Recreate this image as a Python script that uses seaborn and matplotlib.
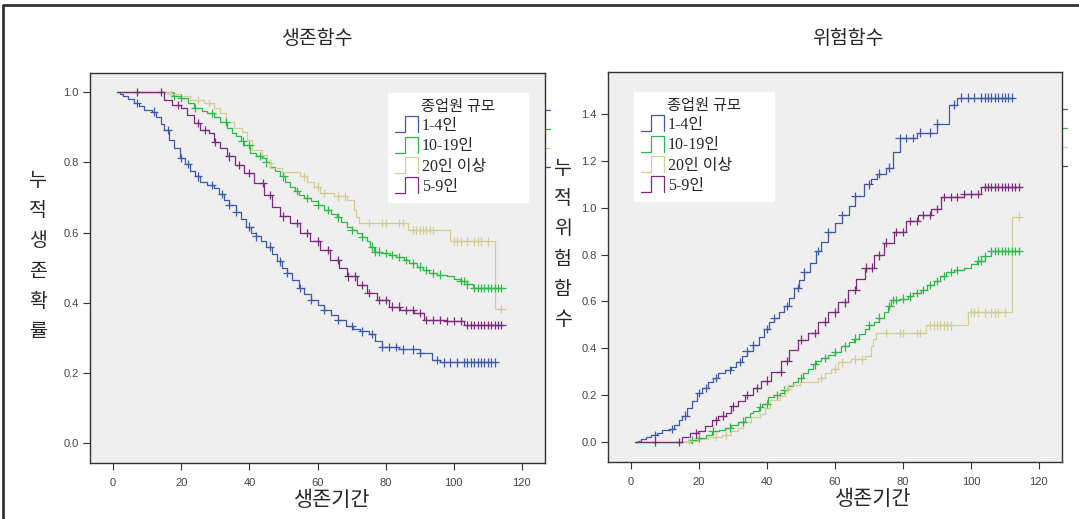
import numpy as np
import pandas as pd
import matplotlib
matplotlib.use('Agg')
import matplotlib.pyplot as plt
import seaborn as sns
from matplotlib.legend_handler import HandlerBase
from matplotlib.lines import Line2D

# ---- data (Kaplan-Meier survival, by firm size) ----
groups = ['1-4인', '10-19인', '20인 이상', '5-9인']

t_1_4 = [1, 2, 3, 4.5, 6, 7.5, 9, 11.5, 12.5, 14, 15, 16.5, 18, 19.5, 21, 22.5, 24, 25.5,
         27.5, 29.5, 31, 32.5, 34, 36, 37.5, 39, 40.5, 42, 43.5, 45, 46.5, 48, 49.5, 51,
         52.5, 54.5, 56, 58, 60, 62, 64, 66, 68.5, 70.5, 72.5, 75, 77, 79, 84, 90, 93.5,
         96, 112.5]
s_1_4 = [1.0, 0.994, 0.988, 0.980, 0.969, 0.960, 0.950, 0.945, 0.930, 0.910, 0.893, 0.865,
         0.840, 0.812, 0.795, 0.775, 0.760, 0.745, 0.735, 0.726, 0.710, 0.693, 0.678, 0.660,
         0.640, 0.617, 0.600, 0.589, 0.575, 0.560, 0.540, 0.518, 0.500, 0.484, 0.465, 0.442,
         0.425, 0.408, 0.393, 0.380, 0.365, 0.350, 0.333, 0.325, 0.318, 0.310, 0.290, 0.273,
         0.267, 0.257, 0.237, 0.230, 0.230]

t_10_19 = [1, 17.5, 20, 22, 23.7, 26, 27.6, 29.5, 31.5, 33.4, 35, 36, 37.5, 38.5, 40.3, 42,
           43.7, 45, 46.1, 47.5, 49.1, 50.5, 52, 53.5, 54.5, 56, 58, 60, 61.8, 64, 65.7, 67,
           68.7, 70, 71.6, 73, 74.5, 75.5, 76.5, 79, 81.4, 83, 85.3, 87, 89.2, 91, 92.6, 95,
           98, 100, 101.9, 104, 105.8, 114.5]
s_10_19 = [1.0, 0.990, 0.983, 0.970, 0.955, 0.948, 0.940, 0.930, 0.916, 0.897, 0.885, 0.874,
           0.860, 0.850, 0.826, 0.818, 0.812, 0.800, 0.788, 0.775, 0.760, 0.745, 0.731, 0.718,
           0.708, 0.698, 0.689, 0.680, 0.665, 0.652, 0.643, 0.630, 0.617, 0.608, 0.598, 0.588,
           0.575, 0.560, 0.546, 0.542, 0.537, 0.530, 0.522, 0.512, 0.503, 0.493, 0.484, 0.480,
           0.475, 0.468, 0.461, 0.452, 0.442, 0.442]

t_20 = [1, 15, 17, 19.8, 22.7, 26.6, 29.5, 31.5, 33, 35.4, 37.8, 39.3, 40.8, 43.7, 45.2, 46.1,
        49.6, 55, 57, 58.9, 60.8, 64.7, 68.7, 70.6, 71.3, 72.1, 86.7, 99, 112.2, 114]
s_20 = [1.0, 1.0, 0.994, 0.988, 0.978, 0.969, 0.954, 0.940, 0.916, 0.897, 0.888, 0.864, 0.836,
        0.821, 0.798, 0.783, 0.774, 0.760, 0.745, 0.731, 0.712, 0.703, 0.693, 0.665, 0.644,
        0.627, 0.608, 0.575, 0.382, 0.382]

t_5_9 = [1, 14, 14.9, 17.3, 19.8, 21.7, 23.7, 25.6, 28, 29.5, 31.5, 33.4, 35.9, 38.3, 41.3,
         44.2, 46.6, 49.1, 52, 55, 57.9, 60.8, 63.8, 66.2, 68.7, 71.6, 74.5, 77.5, 80.9, 84.3,
         88.2, 91.2, 98, 102.9, 114.6]
s_5_9 = [1.0, 1.0, 0.978, 0.964, 0.954, 0.935, 0.912, 0.893, 0.883, 0.859, 0.840, 0.817, 0.793,
         0.769, 0.741, 0.708, 0.674, 0.646, 0.627, 0.598, 0.575, 0.551, 0.522, 0.499, 0.475,
         0.451, 0.427, 0.408, 0.389, 0.380, 0.370, 0.351, 0.347, 0.337, 0.337]

# censored observations (+ marks)
cens_1_4 = [7, 12, 16, 20, 22, 25, 29, 32, 34, 36, 40, 42, 46, 49, 51, 55, 58, 62, 66, 70, 73,
            76, 79, 81, 83, 85, 88, 90, 95, 97, 99, 101, 103, 104, 105, 106, 107, 108, 109,
            110, 111, 112]
cens_10_19 = [18, 20, 24, 29, 33, 38, 40, 43, 45, 50, 54, 57, 60, 63, 66, 70, 73, 76, 77, 78,
              80, 82, 84, 86, 88, 90, 92, 94, 96, 102, 103, 104, 106, 107, 108, 109, 110, 111,
              112, 113, 114]
cens_20 = [17, 25, 28, 46, 56, 60, 62, 66, 68, 75, 79, 80, 84, 85, 88, 89, 90, 91, 92, 93, 94,
           100, 101, 102, 104, 106, 107, 108, 110, 114]
cens_5_9 = [7, 14, 19, 25, 27, 30, 34, 37, 40, 44, 46, 50, 54, 57, 60, 63, 66, 69, 71, 73, 75,
            78, 80, 82, 84, 86, 88, 90, 92, 94, 96, 98, 100, 102, 104, 105, 106, 107, 108, 109,
            110, 111, 112, 113, 114]

colors = ['#3e58ac', '#2eb848', '#d3ce97', '#7c287d']
palette = dict(zip(groups, colors))

steps = {'1-4인': (t_1_4, s_1_4), '10-19인': (t_10_19, s_10_19),
         '20인 이상': (t_20, s_20), '5-9인': (t_5_9, s_5_9)}
cens = {'1-4인': cens_1_4, '10-19인': cens_10_19, '20인 이상': cens_20, '5-9인': cens_5_9}

rows, crows = [], []
for g in groups:
    t, s = np.array(steps[g][0]), np.array(steps[g][1])
    for ti, si in zip(t, s):
        rows.append((g, ti, si))
    for tc in cens[g]:
        idx = max(np.searchsorted(t, tc, side='right') - 1, 0)
        crows.append((g, tc, s[idx]))
df = pd.DataFrame(rows, columns=['group', 't', 'S'])
dfc = pd.DataFrame(crows, columns=['group', 't', 'S'])
# cumulative hazard = -ln S(t)
df['H'] = -np.log(df['S'])
dfc['H'] = -np.log(dfc['S'])

sns.set_style('ticks')
plt.rcParams['font.family'] = ['Liberation Sans', 'Noto Sans CJK KR']
kr = ['Noto Sans CJK KR', 'DejaVu Sans']
leg_font = ['Liberation Serif', 'Noto Sans CJK KR']


class StepHandler(HandlerBase):
    def create_artists(self, legend, orig_handle, xdescent, ydescent, width, height, fontsize, trans):
        x0, y0 = -xdescent, -ydescent - 0.15 * height
        h = height * 1.3
        xs = [x0, x0 + 0.45 * width, x0 + 0.45 * width, x0 + width, x0 + width]
        ys = [y0, y0, y0 + h, y0 + h, y0]
        ln = Line2D(xs, ys, color=orig_handle.get_color(), lw=0.9)
        ln.set_transform(trans)
        return [ln]


fig = plt.figure(figsize=(10.79, 5.19), dpi=100)
ax1 = fig.add_axes([90 / 1079, 1 - 463 / 519, 455 / 1079, 390 / 519])
ax2 = fig.add_axes([608 / 1079, 1 - 462 / 519, 454 / 1079, 390 / 519])

for ax, col in [(ax1, 'S'), (ax2, 'H')]:
    ax.set_facecolor('#efefef')
    sns.lineplot(data=df, x='t', y=col, hue='group', hue_order=groups, palette=palette,
                 estimator=None, sort=False, drawstyle='steps-post', lw=0.9,
                 legend=False, ax=ax)
    sns.scatterplot(data=dfc, x='t', y=col, hue='group', hue_order=groups, palette=palette,
                    marker='+', s=36, linewidth=0.9, legend=False, ax=ax, zorder=3)
    ax.set_xlim(-6.8, 126.8)
    ax.set_xticks(range(0, 121, 20))
    ax.set_xlabel('')
    ax.set_ylabel('')
    for sp in ax.spines.values():
        sp.set_visible(True)
        sp.set_color('#333333')
        sp.set_linewidth(1.0)
    ax.tick_params(direction='out', length=5, width=0.8, color='#333333',
                   labelsize=8, labelcolor='#444444', pad=3)
    ax.tick_params(axis='x', pad=6)
    handles = [Line2D([], [], color=palette[g]) for g in groups]
    bb = (0.655, 0.3, 0.308, 0.649) if ax is ax1 else (0.057, 0.3, 0.309, 0.649)
    leg = ax.legend(handles, groups, title='종업원 규모', loc='upper left',
                    bbox_to_anchor=bb, mode='expand', frameon=True, fancybox=False,
                    framealpha=1, facecolor='white', edgecolor='white', borderpad=0.42,
                    handler_map={Line2D: StepHandler()}, handlelength=1.45,
                    handleheight=0.8, handletextpad=0.25, labelspacing=0.27,
                    borderaxespad=0, prop={'family': leg_font, 'size': 11.5},
                    title_fontproperties={'family': leg_font, 'size': 11})
    # stray legend marks at the right edge
    for k, c in enumerate(colors):
        ax.plot([1.0, 1.012], [0.905 - 0.049 * k] * 2, color=c, lw=0.9,
                transform=ax.transAxes, clip_on=False)

ax1.set_ylim(-0.057, 1.055)
ax1.set_yticks(np.arange(0, 1.01, 0.2))
ax1.yaxis.set_major_formatter('{x:.1f}')
ax2.set_ylim(-0.085, 1.579)
ax2.set_yticks(np.arange(0, 1.41, 0.2))
ax2.yaxis.set_major_formatter('{x:.1f}')

# titles and axis labels
fig.text(317 / 1079, 1 - 38 / 519, '생존함수', family=kr, fontsize=14, ha='center', va='center')
fig.text(848 / 1079, 1 - 38 / 519, '위험함수', family=kr, fontsize=14, ha='center', va='center')
fig.text(332 / 1079, 1 - 500 / 519, '생존기간', family=kr, fontsize=15, ha='center', va='center')
fig.text(873 / 1079, 1 - 499 / 519, '생존기간', family=kr, fontsize=15, ha='center', va='center')
fig.text(38 / 1079, 1 - 256 / 519, '\n'.join('누적생존확률'), family=kr, fontsize=14,
         ha='center', va='center', linespacing=1.58)
fig.text(563 / 1079, 1 - 244 / 519, '\n'.join('누적위험함수'), family=kr, fontsize=14,
         ha='center', va='center', linespacing=1.58)

# outer frame
fig.add_artist(Line2D([3 / 1079, 3 / 1079, 1.0], [0, 1 - 5 / 519, 1 - 5 / 519],
                      color='#333333', lw=2, transform=fig.transFigure))

fig.savefig('out.png', dpi=100)
